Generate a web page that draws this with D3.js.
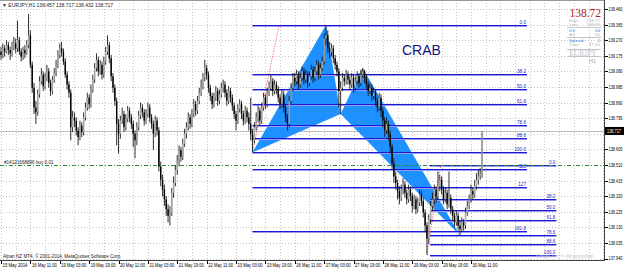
<!doctype html>
<html>
  <head>
    <script src="https://cdnjs.cloudflare.com/ajax/libs/d3/7.8.5/d3.min.js" type="text/JavaScript"></script>
    <style>
      body { margin: 0; background: #fff; }
      svg { display: block; font-family: "Liberation Sans", Arial, sans-serif; }
      .grid line { stroke: #c6c6c6; stroke-width: 1; stroke-dasharray: 1 2; shape-rendering: crispEdges; }
      .axis text { font-size: 4.6px; fill: #000; }
      .axis line { stroke: #000; shape-rendering: crispEdges; }
      .axis path { display: none; }
      line.wick { stroke: #1a1a1a; stroke-width: 0.9; }
      rect.bull { fill: #a8a8a8; }
      rect.bear { fill: #000; }
      path.crab { fill: #1e90ff; stroke: none; }
      text.fib { font-size: 4.6px; fill: #2323c8; text-anchor: end; }
      .tiny { font-size: 5px; fill: #222; }
      .panel { font-size: 4.4px; }
    </style>
  </head>
  <body>
    <svg width="625" height="269"></svg>
    <script>
      // EURJPY H1, one value per hourly bar (open = previous close)
      var firstOpen = 139.20;
      var closes = [
        139.18,139.22,139.20,139.24,139.21,139.19,139.23,139.25,139.22,139.27,
        139.20,139.17,139.21,139.19,139.24,139.30,139.12,138.98,138.86,138.83,
        138.94,139.02,139.06,138.99,139.04,139.08,139.01,138.96,139.03,139.07,
        139.12,139.18,139.22,139.20,139.14,139.06,139.00,138.95,138.74,138.80,
        138.78,138.72,138.68,138.75,138.71,138.80,138.86,138.92,138.88,138.97,
        139.03,139.10,139.15,139.08,139.12,139.06,139.14,139.20,139.24,139.16,
        139.05,138.98,138.90,138.76,138.70,138.78,138.82,138.74,138.79,138.84,
        138.80,138.76,138.70,138.66,138.74,138.81,138.86,138.83,138.78,138.82,
        138.86,138.80,138.76,138.70,138.78,138.72,138.50,138.42,138.36,138.30,
        138.24,138.20,138.22,138.34,138.40,138.48,138.53,138.60,138.56,138.64,
        138.70,138.74,138.80,138.76,138.82,138.88,138.84,138.90,138.95,138.99,
        139.04,139.10,139.06,138.98,138.93,138.88,138.92,138.96,138.90,138.94,
        138.98,139.00,138.95,138.90,138.96,138.92,138.87,138.82,138.78,138.85,
        138.88,138.82,138.78,138.84,138.80,138.76,138.70,138.66,138.74,138.80,
        138.84,138.78,138.86,138.92,138.88,138.95,138.98,139.02,138.96,139.00,
        138.97,138.92,138.88,138.94,138.86,138.80,138.76,138.90,138.98,139.04,
        139.02,139.06,139.00,139.04,139.08,139.03,139.06,139.01,139.05,139.09,
        139.04,139.08,139.12,139.06,139.10,139.14,139.28,139.30,139.22,139.20,
        139.22,139.16,139.12,139.08,138.96,138.98,139.04,139.02,139.06,139.03,
        139.00,139.04,138.98,139.02,139.05,139.01,139.06,139.08,139.04,139.00,
        138.96,138.98,138.93,138.95,138.90,138.86,138.92,138.84,138.78,138.72,
        138.76,138.70,138.62,138.52,138.44,138.40,138.35,138.31,138.36,138.39,
        138.34,138.30,138.36,138.32,138.26,138.30,138.24,138.28,138.33,138.29,
        138.22,138.14,138.06,138.18,138.26,138.30,138.36,138.32,138.38,138.42,
        138.36,138.30,138.34,138.27,138.31,138.24,138.20,138.16,138.20,138.14,
        138.12,138.16,138.14,138.22,138.26,138.30,138.35,138.33,138.38,138.42,
        138.44,138.457,138.717
      ];
      var highs = [
        139.23,139.25,139.24,139.27,139.26,139.23,139.26,139.29,139.28,139.39,
        139.29,139.22,139.23,139.24,139.27,139.43,139.33,139.14,139.01,138.90,
        138.97,139.05,139.10,139.08,139.07,139.12,139.10,139.03,139.05,139.10,
        139.15,139.21,139.25,139.26,139.22,139.16,139.08,139.02,138.97,138.84,
        138.83,138.80,138.74,138.78,138.77,138.83,138.89,138.95,138.94,139.00,
        139.06,139.13,139.19,139.17,139.15,139.14,139.17,139.23,139.30,139.26,
        139.18,139.07,139.00,138.92,138.79,138.81,138.86,138.84,138.82,138.87,
        138.86,138.82,138.78,138.72,138.77,138.84,138.89,138.88,138.85,138.85,
        138.89,138.88,138.82,138.78,138.81,138.80,138.74,138.53,138.45,138.39,
        138.32,138.27,138.26,138.37,138.44,138.51,138.57,138.63,138.62,138.67,
        138.73,138.77,138.83,138.82,138.85,138.91,138.90,138.93,138.98,139.03,
        139.07,139.15,139.12,139.08,139.00,138.95,138.95,138.99,138.98,138.97,
        139.01,139.03,139.02,138.97,138.99,138.98,138.94,138.89,138.84,138.88,
        138.91,138.90,138.84,138.87,138.86,138.83,138.92,138.73,138.77,138.83,
        138.87,138.86,138.89,138.95,138.94,138.98,139.02,139.06,139.04,139.03,
        139.02,138.99,138.94,138.97,138.96,138.88,138.82,138.93,139.01,139.07,
        139.07,139.09,139.08,139.07,139.11,139.10,139.09,139.08,139.08,139.12,
        139.11,139.11,139.15,139.14,139.13,139.17,139.31,139.362,139.33,139.26,
        139.25,139.24,139.18,139.14,139.10,139.02,139.07,139.06,139.09,139.08,
        139.05,139.07,139.06,139.05,139.08,139.07,139.09,139.10,139.09,139.06,
        139.02,139.01,139.00,138.98,138.97,138.92,138.95,138.94,138.86,138.80,
        138.80,138.78,138.72,138.64,138.55,138.47,138.42,138.38,138.39,138.43,
        138.41,138.36,138.39,138.38,138.34,138.33,138.32,138.31,138.36,138.35,
        138.31,138.24,138.16,138.21,138.29,138.34,138.39,138.38,138.47,138.45,
        138.44,138.38,138.37,138.36,138.47,138.33,138.26,138.22,138.23,138.22,
        138.17,138.19,138.18,138.25,138.29,138.33,138.39,138.37,138.42,138.46,
        138.48,138.49,138.717
      ];
      var lows = [
        139.15,139.16,139.17,139.19,139.18,139.15,139.17,139.21,139.19,139.20,
        139.18,139.14,139.15,139.16,139.18,139.22,139.10,138.95,138.82,138.76,
        138.81,138.92,139.00,138.96,138.97,139.02,138.98,138.93,138.94,139.01,
        139.05,139.10,139.16,139.17,139.12,139.04,138.97,138.92,138.66,138.71,
        138.74,138.69,138.63,138.66,138.68,138.69,138.78,138.84,138.85,138.86,
        138.95,139.01,139.08,139.05,139.06,139.03,139.04,139.12,139.18,139.13,
        139.02,138.95,138.87,138.63,138.58,138.67,138.76,138.71,138.72,138.77,
        138.77,138.73,138.62,138.55,138.63,138.72,138.79,138.80,138.75,138.76,
        138.80,138.77,138.73,138.60,138.68,138.69,138.47,138.38,138.32,138.26,
        138.20,138.16,138.14,138.20,138.31,138.38,138.45,138.50,138.53,138.54,
        138.62,138.67,138.72,138.73,138.74,138.80,138.81,138.82,138.88,138.93,
        138.97,139.02,139.03,138.95,138.90,138.85,138.86,138.90,138.87,138.88,
        138.92,138.95,138.92,138.87,138.88,138.89,138.84,138.79,138.72,138.76,
        138.83,138.79,138.75,138.76,138.77,138.72,138.66,138.587,138.64,138.72,
        138.77,138.75,138.76,138.84,138.85,138.86,138.93,138.96,138.93,138.94,
        138.94,138.89,138.85,138.86,138.83,138.77,138.72,138.74,138.88,138.96,
        138.99,139.00,138.97,138.98,139.02,139.00,139.01,138.98,138.99,139.03,
        139.01,139.02,139.06,139.03,139.04,139.08,139.12,139.24,139.19,139.16,
        139.17,139.13,139.09,139.05,138.86,138.82,138.96,138.99,139.00,139.00,
        138.97,138.98,138.95,138.96,139.00,138.98,138.99,139.04,139.01,138.97,
        138.93,138.94,138.90,138.91,138.87,138.83,138.84,138.80,138.74,138.68,
        138.70,138.66,138.58,138.48,138.40,138.36,138.30,138.27,138.29,138.33,
        138.31,138.27,138.28,138.29,138.22,138.24,138.21,138.22,138.26,138.26,
        138.19,138.10,137.964,138.03,138.15,138.23,138.27,138.28,138.30,138.35,
        138.33,138.27,138.28,138.24,138.25,138.21,138.17,138.13,138.14,138.11,
        138.08,138.10,138.11,138.12,138.20,138.24,138.28,138.30,138.31,138.36,
        138.39,138.42,138.432
      ];

      var timeLabels = ["15 May 2014", "16 May 11:00", "19 May 03:00", "19 May 19:00", "20 May 11:00",
        "21 May 03:00", "21 May 19:00", "22 May 11:00", "23 May 03:00", "23 May 19:00", "26 May 11:00",
        "27 May 03:00", "27 May 19:00", "28 May 11:00", "29 May 03:00", "29 May 19:00", "30 May 11:00"];
      var priceTicks = [139.460, 139.365, 139.270, 139.175, 139.080, 138.985, 138.890, 138.795, 138.700,
        138.605, 138.510, 138.415, 138.320, 138.225, 138.130, 138.035, 137.940];

      // crab pattern X A B C D (bar index, which extreme)
      var crabBars = [137, 177, 185, 197, 250];
      var crabSides = ["low", "high", "low", "high", "low"];

      // fibonacci drawn on X-A, and on the last swing
      var fib1Levels = [0, 38.2, 50, 61.8, 78.6, 88.6, 100, 113, 127, 161.8];
      var fib1Labels = ["0.0", "38.2", "50.0", "61.8", "78.6", "88.6", "100.0", "113", "127", "161.8"];
      var fib1Span = [137, 286.5];
      var fib2Levels = [0, 38.2, 50, 61.8, 78.6, 88.6, 100];
      var fib2Labels = ["0.0", "38.2", "50.0", "61.8", "78.6", "88.6", "100.0"];
      var fib2Prices = [138.508, 137.964];
      var fib2Span = [233.7, 302.5];

      var orderPrice = 138.510;
      var orderLabel = "#14121668896 buy 0.01";

      var svg = d3.select("svg");
      var plotRight = 604, plotBottom = 260;
      var x = d3.scaleLinear().domain([0, 256]).range([1, 471]);
      var y = d3.scaleLinear().domain([137.940, 139.460]).range([258.5, 9]);
      var last = closes.length - 1;
      var bars = closes.map(function(c, i) {
        return { i: i, o: i === 0 ? firstOpen : closes[i - 1], h: highs[i], l: lows[i], c: c };
      });
      var px = function(v) { return Math.round(v) + 0.5; };

      // grid
      var grid = svg.append("g").attr("class", "grid");
      grid.selectAll("line.h").data(priceTicks).enter().append("line")
        .attr("x1", 0).attr("x2", plotRight)
        .attr("y1", d => px(y(d))).attr("y2", d => px(y(d)));
      grid.selectAll("line.v").data(d3.range(0, 330, 8)).enter().append("line")
        .attr("x1", d => px(x(d))).attr("x2", d => px(x(d)))
        .attr("y1", 0).attr("y2", plotBottom);

      // bid line
      svg.append("line").attr("x1", 0).attr("x2", plotRight)
        .attr("y1", px(y(closes[last]))).attr("y2", px(y(closes[last])))
        .attr("stroke", "#bdbdbd").attr("stroke-width", 1);

      // crab triangles
      var crab = crabBars.map(function(b, k) {
        return [x(b), y(crabSides[k] === "low" ? lows[b] : highs[b])];
      });
      svg.selectAll("path.crab").data([crab.slice(0, 3), crab.slice(2, 5)]).enter().append("path")
        .attr("class", "crab")
        .attr("d", d => d3.line()(d) + "Z");

      // fib lines
      var A = highs[crabBars[1]], X = lows[crabBars[0]];
      function fibSet(levels, labels, top, bottom, span) {
        var g = svg.append("g");
        levels.forEach(function(r, k) {
          var yy = Math.round(y(top - (top - bottom) * r / 100));
          g.append("line").attr("x1", x(span[0])).attr("x2", x(span[1]))
            .attr("y1", yy + 1.5).attr("y2", yy + 1.5)
            .attr("stroke", "#9a9af2").attr("stroke-width", 1);
          g.append("line").attr("x1", x(span[0])).attr("x2", x(span[1]))
            .attr("y1", yy + 0.5).attr("y2", yy + 0.5)
            .attr("stroke", "#1a1ad6").attr("stroke-width", 1.1);
          g.append("text").attr("class", "fib")
            .attr("x", x(span[1]) - 1).attr("y", yy - 1)
            .text(labels[k]);
        });
      }
      fibSet(fib1Levels, fib1Labels, A, X, fib1Span);
      fibSet(fib2Levels, fib2Labels, fib2Prices[0], fib2Prices[1], fib2Span);

      // red dotted guides
      var guides = [
        [[crabBars[0], X], [151.5, A]],
        [[232, lows[232]], [239.5, fib2Prices[0]]]
      ];
      svg.selectAll("path.guide").data(guides).enter().append("path")
        .attr("d", d => d3.line()(d.map(p => [x(p[0]), y(p[1])])))
        .attr("fill", "none").attr("stroke", "#ff3030")
        .attr("stroke-width", 0.9).attr("stroke-dasharray", "1 1.5");

      // order line
      svg.append("line").attr("x1", 0).attr("x2", plotRight)
        .attr("y1", px(y(orderPrice))).attr("y2", px(y(orderPrice)))
        .attr("stroke", "#2f8a2f").attr("stroke-width", 1)
        .attr("stroke-dasharray", "4 2 1 2");
      svg.append("text").attr("class", "tiny").attr("x", 4).attr("y", px(y(orderPrice)) - 2)
        .style("font-size", "4.6px").text(orderLabel);

      // candles
      var cg = svg.append("g");
      cg.selectAll("line.wick").data(bars).enter().append("line")
        .attr("class", "wick")
        .attr("x1", d => x(d.i)).attr("x2", d => x(d.i))
        .attr("y1", d => y(d.h)).attr("y2", d => y(d.l));
      cg.selectAll("rect").data(bars).enter().append("rect")
        .attr("class", d => d.c >= d.o ? "bull" : "bear")
        .attr("x", d => x(d.i) - 0.7).attr("width", 1.4)
        .attr("y", d => y(Math.max(d.o, d.c)))
        .attr("height", d => Math.max(0.6, Math.abs(y(d.o) - y(d.c))));

      // CRAB label
      svg.append("text").attr("x", 402).attr("y", 55)
        .attr("font-size", 14).attr("fill", "#14147f").text("CRAB");

      // axes
      svg.append("rect").attr("x", plotRight + 1).attr("y", 0).attr("width", 21).attr("height", 269).attr("fill", "#fff");
      var yAxis = d3.axisRight(y).tickValues(priceTicks.filter(d => Math.abs(y(d) - y(closes[last])) > 6))
        .tickFormat(d3.format(".3f")).tickSize(3).tickPadding(1);
      var yg = svg.append("g").attr("class", "axis").attr("transform", "translate(" + (plotRight + 0.5) + ",0)").call(yAxis);
      yg.selectAll("text").attr("textLength", 14).attr("lengthAdjust", "spacingAndGlyphs");
      var xAxis = d3.axisBottom(x).tickValues(d3.range(0, 257, 16))
        .tickFormat((d, k) => timeLabels[k]).tickSize(3).tickPadding(0.5);
      var xg = svg.append("g").attr("class", "axis").attr("transform", "translate(0," + (plotBottom + 0.5) + ")").call(xAxis);
      xg.selectAll("text").attr("text-anchor", "start").attr("dx", 1)
        .attr("textLength", 25).attr("lengthAdjust", "spacingAndGlyphs");
      svg.append("line").attr("x1", 0).attr("x2", plotRight + 1).attr("y1", plotBottom + 0.5).attr("y2", plotBottom + 0.5)
        .attr("stroke", "#444");
      svg.append("line").attr("x1", plotRight + 0.5).attr("x2", plotRight + 0.5).attr("y1", 0).attr("y2", plotBottom + 1)
        .attr("stroke", "#444");
      svg.append("line").attr("x1", 0).attr("x2", plotRight).attr("y1", 0.5).attr("y2", 0.5).attr("stroke", "#9a9a9a");

      // current price box
      var cy = y(closes[last]);
      svg.append("rect").attr("x", plotRight + 1).attr("y", cy - 4).attr("width", 19).attr("height", 8).attr("fill", "#000");
      svg.append("text").attr("x", plotRight + 3).attr("y", cy + 1.8).attr("font-size", 4.6).attr("fill", "#fff")
        .attr("textLength", 14).attr("lengthAdjust", "spacingAndGlyphs")
        .text(closes[last].toFixed(3));

      // header and footer text
      var b = bars[last];
      svg.append("text").attr("class", "tiny").attr("x", 2).attr("y", 7)
        .text("\u25BC EURJPY,H1  " + [b.o, b.h, b.l, b.c].map(v => v.toFixed(3)).join(" "));
      svg.append("text").attr("class", "tiny").attr("x", 3).attr("y", 258).style("font-size", "4.6px")
        .text("Alpari NZ MT4, \u00A9 2001-2014, MetaQuotes Software Corp.");
      svg.append("text").attr("x", 536).attr("y", 258).attr("font-size", 4.6).attr("fill", "#c8c8c8")
        .text("Kontak <<<>> Alhamdulillah");

      // info panel
      var panel = svg.append("g").attr("class", "panel");
      panel.append("text").attr("x", 601).attr("y", 17).attr("text-anchor", "end")
        .attr("font-family", "Liberation Serif, serif").attr("font-size", 11.5).attr("fill", "#b01c1c")
        .text(closes[last].toFixed(2));
      var rows = [["High:", "138.72", "#b5b5b5", 22], ["Low:", "138.08", "#b5b5b5", 26],
        ["D1:", "64", "#2a86e8", 32], ["Atr:", "60", "#b5b5b5", 35.5], ["Spread:", "2", "#2a86e8", 42],
        ["Time:", "27:20", "#b5b5b5", 45.5]];
      rows.forEach(function(r) {
        panel.append("text").attr("x", 569).attr("y", r[3]).attr("fill", r[2]).text(r[0]);
        panel.append("text").attr("x", 600).attr("y", r[3]).attr("fill", r[2]).attr("text-anchor", "end").text(r[1]);
      });
      [27.5, 37.5, 49.5, 56.5].forEach(function(v) {
        panel.append("line").attr("x1", 567).attr("x2", 601).attr("y1", v).attr("y2", v)
          .attr("stroke", "#c4c4c4").attr("stroke-width", 1);
      });
      panel.append("text").attr("x", 583).attr("y", 55.5).attr("text-anchor", "middle")
        .attr("font-family", "Liberation Serif, serif").attr("font-size", 7.5).attr("fill", "#c4c4c4")
        .text("EURJPY");
      panel.append("text").attr("x", 596).attr("y", 62.5).attr("text-anchor", "end")
        .attr("font-size", 5.5).attr("fill", "#a0a0a0").text("H1");
    </script>
  </body>
</html>
